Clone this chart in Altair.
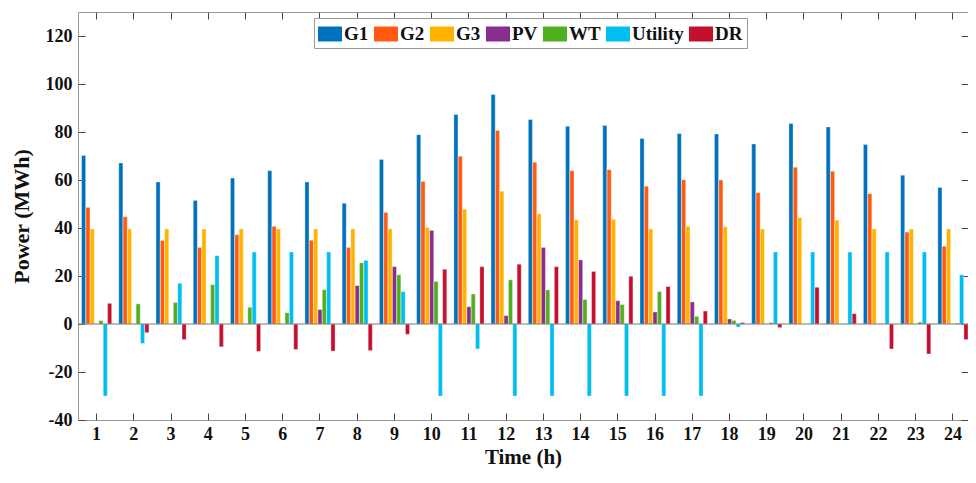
import altair as alt
import pandas as pd

hours = list(range(1, 25))
series = ["G1", "G2", "G3", "PV", "WT", "Utility", "DR"]
colors = ["#0072BD", "#FF5A0F", "#FFB300", "#892D8F", "#4FAF1E", "#00BFF0", "#C40F2F"]

g1 = [70.2, 67.1, 59.2, 51.5, 60.8, 63.9, 59.2, 50.3, 68.5, 78.9, 87.3, 95.6,
      85.2, 82.4, 82.7, 77.3, 79.4, 79.2, 75.0, 83.5, 82.1, 74.8, 62.0, 56.9]
g2 = [48.6, 44.7, 34.8, 31.9, 37.2, 40.7, 34.9, 31.9, 46.5, 59.4, 69.9, 80.6,
      67.4, 63.9, 64.3, 57.4, 60.1, 60.0, 54.7, 65.3, 63.6, 54.3, 38.3, 32.4]
g3 = [39.6, 39.6, 39.6, 39.6, 39.6, 39.6, 39.6, 39.6, 39.6, 40.2, 47.8, 55.3,
      45.9, 43.4, 43.6, 39.6, 40.7, 40.5, 39.6, 44.4, 43.3, 39.6, 39.6, 39.6]
pv = [0, 0, 0, 0, 0, 0, 6.0, 16.0, 23.9, 39.0, 7.2, 3.5,
      31.9, 26.7, 9.7, 5.0, 9.2, 2.1, 0, 0, 0, 0, 0, 0]
wt = [1.4, 8.4, 9.0, 16.4, 7.0, 4.7, 14.3, 25.5, 20.5, 17.7, 12.5, 18.4,
      14.2, 10.2, 8.1, 13.5, 3.2, 1.5, 0.6, 0.1, 0.1, 0.2, 0.8, 0.4]
utility = [-30, -8.1, 17.0, 28.5, 30, 30, 30, 26.5, 13.5, -30, -10.4, -30,
           -30, -30, -30, -30, -30, -1.3, 30, 30, 30, 30, 30, 20.5]
dr = [8.6, -3.6, -6.5, -9.5, -11.4, -10.6, -11.3, -11.1, -4.3, 22.8, 23.9, 24.9,
      23.9, 21.9, 19.9, 15.6, 5.4, 0.6, -1.5, 15.3, 4.3, -10.4, -12.5, -6.5]
y_ticks = [-40, -20, 0, 20, 40, 60, 80, 100, 120]

wide = pd.DataFrame({"Hour": hours, "G1": g1, "G2": g2, "G3": g3, "PV": pv,
                     "WT": wt, "Utility": utility, "DR": dr})
df = wide.melt(id_vars="Hour", var_name="Series", value_name="Value")

FONT = "Liberation Serif"
W, H = 890, 408
FRAME = "#999"

x_scale = alt.Scale(paddingInner=0.19, paddingOuter=0.0475, align=1)
y_scale = alt.Scale(domain=[-40, 130], nice=False, zero=False)

bars = alt.Chart(df).mark_bar(stroke="white", strokeWidth=0.5, strokeOpacity=0.7).encode(
    x=alt.X("Hour:O", scale=x_scale,
            axis=alt.Axis(orient="bottom", title="Time (h)", labelAngle=0, tickSize=0,
                          domain=True, domainColor=FRAME, labelPadding=5, titlePadding=3,
                          titleFontSize=21)),
    xOffset=alt.XOffset("Series:N", sort=series,
                        scale=alt.Scale(paddingInner=0.05, paddingOuter=0)),
    y=alt.Y("Value:Q", scale=y_scale,
            axis=alt.Axis(orient="left", title="Power (MWh)", values=y_ticks, tickSize=0,
                          domain=True, domainColor=FRAME, labelPadding=6, titlePadding=12,
                          labelExpr="'' + datum.value")),
    color=alt.Color("Series:N", sort=series,
                    scale=alt.Scale(domain=series, range=colors),
                    legend=alt.Legend(orient="none", legendX=236, legendY=6,
                                      direction="horizontal", columns=7, title=None,
                                      symbolType="M-1,-0.625H1V0.625H-1Z", symbolSize=576,
                                      symbolStrokeWidth=0, symbolOpacity=1,
                                      labelFont=FONT, labelFontSize=19, labelFontWeight="bold",
                                      labelColor="#111", columnPadding=5, labelOffset=2,
                                      padding=4, strokeColor=FRAME, fillColor="white")),
)

zero_df = pd.DataFrame({"z": [0]})
zero = alt.Chart(zero_df).mark_rule(color="#777", strokeWidth=1).encode(
    y=alt.Y("z:Q", scale=y_scale, axis=None)
)

tick_axis = dict(labels=False, title=None, tickSize=7, tickColor="#444",
                 tickWidth=1, grid=False)

ticks_a = alt.Chart(df).mark_point(opacity=0).encode(
    x=alt.X("Hour:O", scale=x_scale,
            axis=alt.Axis(orient="top", offset=-H, domain=False, **tick_axis)),
    y=alt.Y("Value:Q", scale=y_scale,
            axis=alt.Axis(orient="right", offset=-W, values=y_ticks, domain=False, **tick_axis)),
)
ticks_b = alt.Chart(df).mark_point(opacity=0).encode(
    x=alt.X("Hour:O", scale=x_scale,
            axis=alt.Axis(orient="bottom", offset=-H, domain=True, domainColor=FRAME,
                          **tick_axis)),
    y=alt.Y("Value:Q", scale=y_scale,
            axis=alt.Axis(orient="left", offset=-W, values=y_ticks, domain=False, **tick_axis)),
)

chart = alt.layer(bars, zero, ticks_a, ticks_b).resolve_axis(
    x="independent", y="independent"
).properties(
    width=W, height=H,
    autosize=alt.AutoSizeParams(type="none"),
    padding={"left": 70, "top": 4, "right": 0, "bottom": 51},
).configure_view(
    stroke=None
).configure_axis(
    labelFont=FONT, labelFontSize=18, labelFontWeight="bold", labelColor="#111",
    titleFont=FONT, titleFontSize=22, titleFontWeight="bold", titleColor="#111",
    grid=False
)

chart.save("out.html", embed_options={"renderer": "svg", "actions": False})
